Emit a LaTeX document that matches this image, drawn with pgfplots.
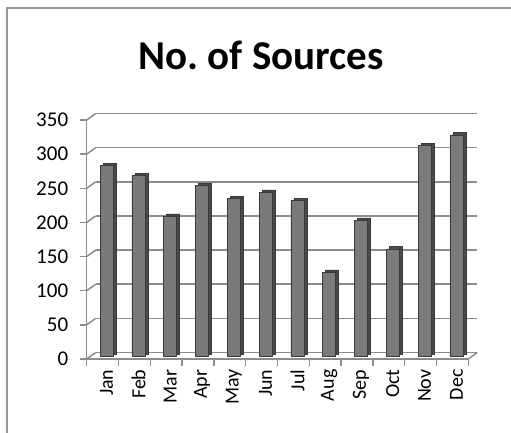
\documentclass[border=0pt]{standalone}
\usepackage{fontspec}
\setmainfont{Carlito}
\usepackage{pgfplots}
\pgfplotsset{compat=1.18}
\definecolor{gridc}{HTML}{8C8C8C}
\definecolor{barfront}{HTML}{7A7A7A}
\definecolor{barside}{HTML}{4A4A4A}
\definecolor{baredge}{HTML}{3A3A3A}
\begin{document}
\begin{tikzpicture}
\useasboundingbox (-86.7pt,-74pt) rectangle (424.3pt,359pt);
\draw[gridc!90, line width=2pt] (-79.7pt,-120pt) -- (-79.7pt,351pt) -- (460pt,351pt);
\node[font=\fontsize{41}{46}\selectfont\bfseries] at (174.5pt,304pt) {No.\ of Sources};
\begin{axis}[
  at={(0pt,0pt)}, anchor=south west,
  scale only axis, width=381.6pt, height=239pt,
  xmin=-0.5, xmax=11.5, ymin=0, ymax=350,
  clip=false,
  axis x line*=bottom, axis y line*=left,
  axis line style={gridc, line width=1.5pt, -},
  xtick={0,...,11},
  xticklabels={Jan,Feb,Mar,Apr,May,Jun,Jul,Aug,Sep,Oct,Nov,Dec},
  minor xtick={-0.5,0.5,...,11.5},
  ytick={0,50,...,350},
  tick align=outside,
  x tick style={draw=none},
  minor x tick style={draw=gridc, line width=1.5pt},
  minor tick length=7pt,
  y tick style={draw=gridc, line width=1.5pt},
  major tick length=7pt,
  ymajorgrids,
  major grid style={gridc, line width=1.6pt, xshift=9pt, yshift=6.5pt},
  x tick label style={rotate=90, anchor=east, font=\fontsize{20}{22}\selectfont, yshift=-4pt},
  y tick label style={font=\fontsize{21}{24}\selectfont, xshift=-8pt},
  /pgf/number format/assume math mode=true,
]
\pgfplotsinvokeforeach{0,50,...,350}{
  \draw[gridc, line width=1.5pt] (axis cs:-0.5,#1) -- ++(9pt,6.5pt);
}
\draw[gridc, line width=1.5pt] (axis cs:11.5,0) -- ++(9pt,6.5pt);
\addplot[ybar, bar width=13pt, bar shift=0pt, fill=barside, draw=baredge, line width=0.5pt, xshift=7pt, yshift=4.5pt]
  coordinates {(0,280) (1,265) (2,206) (3,251) (4,232) (5,241) (6,229) (7,124) (8,200) (9,158) (10,309) (11,325)};
\addplot[ybar, bar width=13pt, bar shift=0pt, fill=barfront, draw=baredge, line width=0.5pt, xshift=4pt, yshift=2.3pt]
  coordinates {(0,280) (1,265) (2,206) (3,251) (4,232) (5,241) (6,229) (7,124) (8,200) (9,158) (10,309) (11,325)};
\end{axis}
\end{tikzpicture}
\end{document}
